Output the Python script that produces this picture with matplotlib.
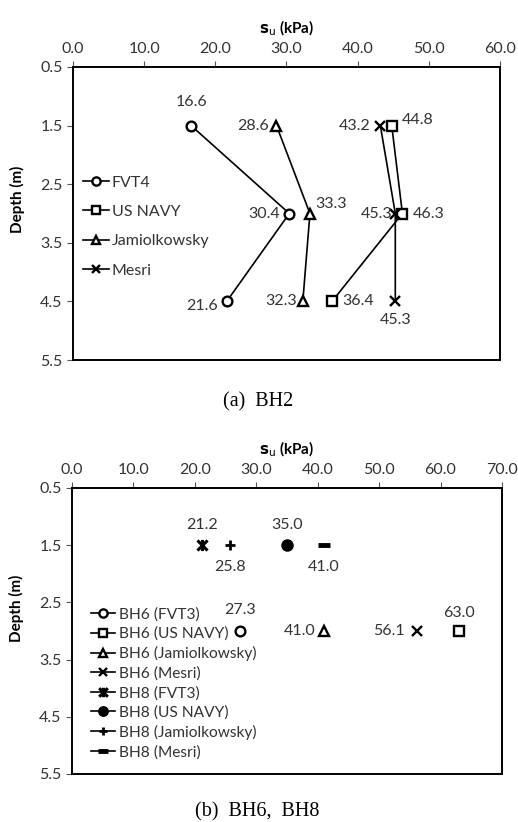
import matplotlib
matplotlib.use("Agg")
import matplotlib.pyplot as plt
from matplotlib.path import Path

plt.rcParams['font.family'] = ['Lato', 'DejaVu Sans']

TXT = '#333333'

# (a) BH2 data
depth_a = [1.5, 3.0, 4.5]
fvt4 = [16.6, 30.4, 21.6]
usnavy = [44.8, 46.3, 36.4]
jamiol = [28.6, 33.3, 32.3]
mesri = [43.2, 45.3, 45.3]

# (b) BH6 / BH8 data
depth_bh6 = [3.0]
depth_bh8 = [1.5]
bh6_fvt3 = [27.3]
bh6_usnavy = [63.0]
bh6_jamiol = [41.0]
bh6_mesri = [56.1]
bh8_fvt3 = [21.2]
bh8_usnavy = [35.0]
bh8_jamiol = [25.8]
bh8_mesri = [41.0]

yticks = [0.5, 1.5, 2.5, 3.5, 4.5, 5.5]

# asterisk marker (x plus vertical bar)
star = Path([(-1, -1), (1, 1), (-1, 1), (1, -1), (0, -1.1), (0, 1.1)],
            [Path.MOVETO, Path.LINETO, Path.MOVETO, Path.LINETO, Path.MOVETO, Path.LINETO])

fig = plt.figure(figsize=(5.18, 8.22), dpi=100)

FS = 11.5


def style_axes(ax, xmax):
    ax.set_xlim(0, xmax)
    ax.set_ylim(5.5, 0.5)
    ax.set_yticks(yticks)
    ax.set_yticklabels(['%.1f' % v for v in yticks])
    ax.set_xticks(range(0, xmax + 1, 10))
    ax.set_xticklabels(['%.1f' % v for v in range(0, xmax + 1, 10)])
    ax.xaxis.tick_top()
    ax.xaxis.set_label_position('top')
    ax.tick_params(axis='both', direction='out', length=4, width=0.8, color='#555555',
                   labelsize=FS, labelcolor=TXT)
    ax.tick_params(axis='x', pad=4)
    for s in ax.spines.values():
        s.set_linewidth(1.4)
        s.set_color('black')
    ax.set_xlabel(r'$\mathbf{s}_\mathrm{u}$ (kPa)', fontsize=11, fontweight='bold', labelpad=6)
    ax.set_ylabel('Depth (m)', fontsize=11, fontweight='bold')


def lab(ax, text, x, y, dx, dy, ha='center'):
    ax.annotate(text, (x, y), xytext=(dx * 0.72, dy * 0.72), textcoords='offset points',
                ha=ha, va='center', fontsize=FS, color=TXT)


mk = dict(color='black', lw=1.2, markersize=7, markeredgewidth=1.7,
          markerfacecolor='white', markeredgecolor='black')

# ---- panel (a)
ax1 = fig.add_axes([0.141, 0.562, 0.824, 0.3565])
style_axes(ax1, 60)
ax1.yaxis.set_label_coords(-0.113, 0.55)
ax1.plot(fvt4, depth_a, marker='o', label='FVT4', **mk)
ax1.plot(usnavy, depth_a, marker='s', label='US NAVY', **mk)
ax1.plot(jamiol, depth_a, marker='^', label='Jamiolkowsky', **mk)
ax1.plot(mesri, depth_a, marker='x', label='Mesri', **mk)

lab(ax1, '16.6', fvt4[0], depth_a[0], 0, 24)
lab(ax1, '30.4', fvt4[1], depth_a[1], -9, 0, 'right')
lab(ax1, '21.6', fvt4[2], depth_a[2], -9, -5, 'right')
lab(ax1, '44.8', usnavy[0], depth_a[0], 10, 6, 'left')
lab(ax1, '46.3', usnavy[1], depth_a[1], 10, 0, 'left')
lab(ax1, '36.4', usnavy[2], depth_a[2], 10, 0, 'left')
lab(ax1, '28.6', jamiol[0], depth_a[0], -8, 0, 'right')
lab(ax1, '33.3', jamiol[1], depth_a[1], 5, 10, 'left')
lab(ax1, '32.3', jamiol[2], depth_a[2], -6, 0, 'right')
lab(ax1, '43.2', mesri[0], depth_a[0], -10, 0, 'right')
lab(ax1, '45.3', mesri[1], depth_a[1], -3, 0, 'right')
lab(ax1, '45.3', mesri[2], depth_a[2], 0, -19)

ax1.legend(loc='upper left', bbox_to_anchor=(0.005, 0.657), frameon=False,
           fontsize=FS, labelspacing=0.95, handlelength=1.6, handletextpad=0.2,
           borderpad=0, markerscale=0.85, labelcolor=TXT)

fig.text(0.498, 1 - 402 / 822, '(a)  BH2', ha='center', va='center',
         fontsize=14.5, family='Liberation Serif')

# ---- panel (b)
ax2 = fig.add_axes([0.139, 0.0584, 0.830, 0.348])
style_axes(ax2, 70)
ax2.yaxis.set_label_coords(-0.112, 0.58)
ax2.plot(bh6_fvt3, depth_bh6, marker='o', label='BH6 (FVT3)', **mk)
ax2.plot(bh6_usnavy, depth_bh6, marker='s', label='BH6 (US NAVY)', **mk)
ax2.plot(bh6_jamiol, depth_bh6, marker='^', label='BH6 (Jamiolkowsky)', **mk)
ax2.plot(bh6_mesri, depth_bh6, marker='x', label='BH6 (Mesri)', **mk)
ax2.plot(bh8_fvt3, depth_bh8, marker=star, label='BH8 (FVT3)', color='black', lw=1.2,
         markersize=8, markeredgewidth=2.2)
ax2.plot(bh8_usnavy, depth_bh8, marker='o', label='BH8 (US NAVY)', color='black', lw=1.2,
         markersize=8, markerfacecolor='black')
ax2.plot(bh8_jamiol, depth_bh8, marker='+', label='BH8 (Jamiolkowsky)', color='black', lw=1.2,
         markersize=7, markeredgewidth=2)
ax2.plot(bh8_mesri, depth_bh8, marker='_', label='BH8 (Mesri)', color='black', lw=1.2,
         markersize=9, markeredgewidth=3.5)

lab(ax2, '21.2', bh8_fvt3[0], depth_bh8[0], 0, 20)
lab(ax2, '25.8', bh8_jamiol[0], depth_bh8[0], 0, -22)
lab(ax2, '35.0', bh8_usnavy[0], depth_bh8[0], 0, 20)
lab(ax2, '41.0', bh8_mesri[0], depth_bh8[0], 0, -22)
lab(ax2, '27.3', bh6_fvt3[0], depth_bh6[0], 0, 21)
lab(ax2, '41.0', bh6_jamiol[0], depth_bh6[0], -8, 0, 'right')
lab(ax2, '56.1', bh6_mesri[0], depth_bh6[0], -12, 0, 'right')
lab(ax2, '63.0', bh6_usnavy[0], depth_bh6[0], 0, 18)

ax2.legend(loc='upper left', bbox_to_anchor=(0.025, 0.61), frameon=False,
           fontsize=11.2, labelspacing=0.33, handlelength=1.6, handletextpad=0.2,
           borderpad=0, markerscale=0.85, labelcolor=TXT)

fig.text(0.497, 1 - 812 / 822, '(b)  BH6,  BH8', ha='center', va='center',
         fontsize=14.5, family='Liberation Serif')

fig.savefig('out.png', dpi=100)
